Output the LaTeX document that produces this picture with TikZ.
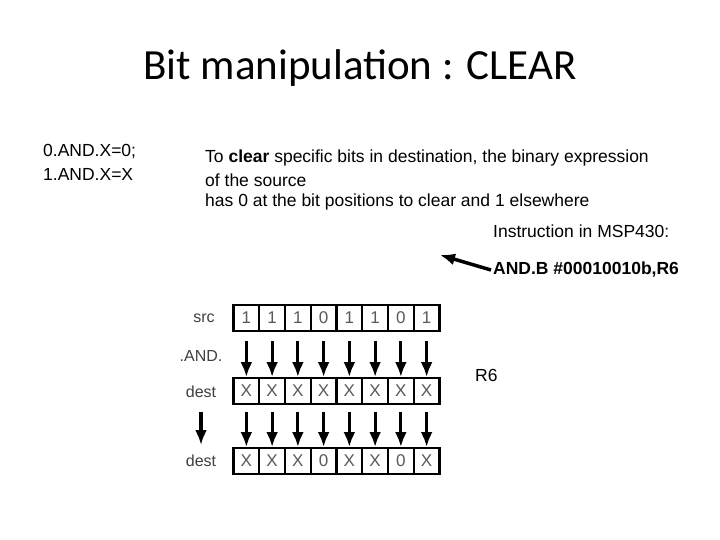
\documentclass[tikz,border=0pt]{standalone}
\usepackage{fontspec}
\usetikzlibrary{arrows.meta}
\setmainfont{Liberation Sans}
\newfontfamily\titlefont{Carlito}
\begin{document}
\begin{tikzpicture}[x=1pt,y=-1pt,
  txt/.style={anchor=west,inner sep=0pt,font=\fontsize{17.5}{20}\selectfont},
  cell/.style={draw,line width=2.2pt,minimum width=25.75pt,minimum height=26pt,inner sep=0pt,font=\fontsize{17}{20}\selectfont\color{black!65}},
  lbl/.style={inner sep=0pt,font=\fontsize{16}{18}\selectfont\color{black!75}},
  dn/.style={-{Latex[length=15pt,width=12pt]},line width=3.2pt}]
\useasboundingbox[fill=white] (0,0) rectangle (720,540);
\node[font=\titlefont\fontsize{43}{48}\selectfont] (title) at (360,68) {Bit manipulation : CLEAR};
\node[txt] (l1) at (43,152) {0.AND.X=0;};
\node[txt] (l2) at (43,174) {1.AND.X=X};
\node[txt] (t1) at (205,158) {To \textbf{clear} specific bits in destination, the binary expression};
\node[txt] (t2) at (205,180) {of the source};
\node[txt] (t3) at (205,202) {has 0 at the bit positions to clear and 1 elsewhere};
\node[txt] (ins) at (493,231) {Instruction in MSP430:};
\node[txt,font=\bfseries\fontsize{17.5}{20}\selectfont] (and) at (493,270) {AND.B \#00010010b,R6};
\coordinate (tip) at (440,255);
\draw[-{Latex[length=15pt,width=12pt]},line width=3.5pt] (and.west) ++(-2,0) coordinate (st) -- (tip);
\node[txt] (r6) at (475,375) {R6};
\def\srcbits{1,1,1,0,1,1,0,1}
\def\dbits{X,X,X,0,X,X,0,X}
\foreach \b [count=\i] in \srcbits {
  \node[cell] (s\i) at ({233.5+25.75*(\i-0.5)},318) {\b};
  \node[cell] (d\i) at ({233.5+25.75*(\i-0.5)},391) {X};
  \coordinate (a\i) at ({233.5+25.75*(\i-0.5)},341);
  \coordinate (b\i) at ({233.5+25.75*(\i-0.5)},377);
  \draw[dn] (a\i) -- (b\i);
}
\foreach \b [count=\i] in \dbits {
  \node[cell] (e\i) at ({233.5+25.75*(\i-0.5)},461) {\b};
  \coordinate (c\i) at ({233.5+25.75*(\i-0.5)},412);
  \coordinate (f\i) at ({233.5+25.75*(\i-0.5)},447);
  \draw[dn] (c\i) -- (f\i);
}
\node[lbl] (ls) at (204,318) {src};
\node[lbl] (la) at (201,356) {.AND.};
\node[lbl] (ld) at (201,392) {dest};
\node[lbl] (le) at (201,461) {dest};
\coordinate (g1) at (201,412);
\coordinate (g2) at (201,445);
\draw[dn] (g1) -- (g2);
\end{tikzpicture}
\end{document}
